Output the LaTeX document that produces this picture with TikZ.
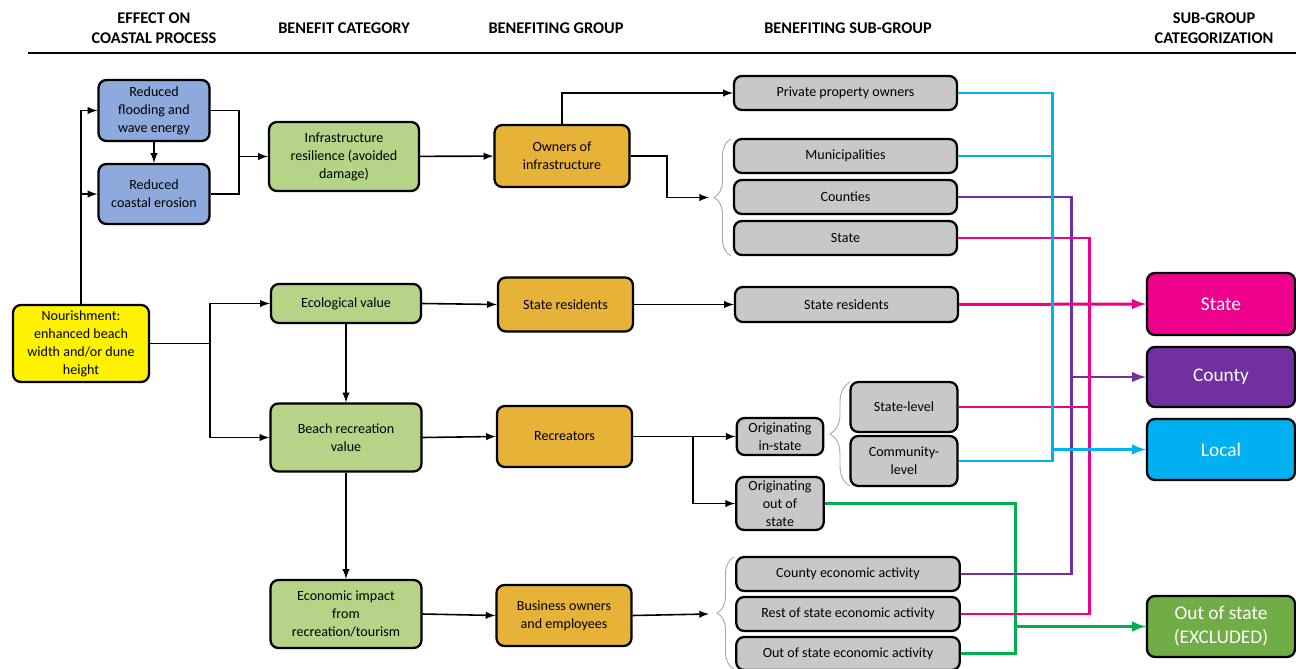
\documentclass[tikz,border=0pt]{standalone}
\usepackage{fontspec}
\setmainfont{Carlito}
\usetikzlibrary{decorations.pathreplacing}
\definecolor{effectblue}{RGB}{142,169,219}
\definecolor{benefitgreen}{RGB}{182,212,135}
\definecolor{grouporange}{RGB}{230,178,56}
\definecolor{subgray}{RGB}{200,200,200}
\definecolor{catpink}{RGB}{236,0,140}
\definecolor{catpurple}{RGB}{112,48,160}
\definecolor{catblue}{RGB}{0,176,240}
\definecolor{catgreen}{RGB}{112,173,71}
\definecolor{linegreen}{RGB}{0,176,80}
\begin{document}
\begin{tikzpicture}[x=0.02cm,y=-0.02cm,
	every node/.style={font=\fontsize{8}{10.2}\selectfont,align=center},
	base/.style={draw,rounded corners=4.5pt,line width=1.3pt,inner sep=1pt},
	sourcebox/.style={base,fill=yellow},
	effectbox/.style={base,fill=effectblue,minimum width=2.22cm},
	benefitbox/.style={base,fill=benefitgreen,minimum width=3.02cm},
	groupbox/.style={base,fill=grouporange,minimum width=2.7cm},
	subbox/.style={base,fill=subgray},
	catbox/.style={base,text=white,font=\fontsize{11}{13.6}\selectfont,minimum width=2.96cm},
	head/.style={font=\bfseries\fontsize{9.3}{11.3}\selectfont},
	arr/.style={-latex,line width=0.9pt},
	link/.style={line width=1.7pt},
	curly/.style={draw=gray!70,line width=0.5pt,decorate,decoration={brace,amplitude=#1}},
	curly/.default=0.34cm]
	\useasboundingbox (0,0) rectangle (1296,669);
	\node[head] (h1) at (154,28) {EFFECT ON\\COASTAL PROCESS};
	\node[head] (h2) at (344,28) {BENEFIT CATEGORY};
	\node[head] (h3) at (556,28) {BENEFITING GROUP};
	\node[head] (h4) at (848,28) {BENEFITING SUB-GROUP};
	\node[head] (h5) at (1214,28) {SUB-GROUP\\CATEGORIZATION};
	\draw[line width=1.5pt] (28,53) -- (1296,53);

	\node[sourcebox,minimum width=2.72cm,minimum height=1.54cm] (nour) at (81,343.5) {Nourishment:\\enhanced beach\\width and/or dune\\height};
	\node[effectbox,minimum height=1.22cm] (flood) at (154,110.5) {Reduced\\flooding and\\wave energy};
	\node[effectbox,minimum height=1.2cm] (eros) at (154,194) {Reduced\\coastal erosion};

	\node[benefitbox,minimum width=3cm,minimum height=1.38cm] (infra) at (344,156.5) {Infrastructure\\resilience (avoided\\damage)};
	\node[benefitbox,minimum width=3cm,minimum height=0.78cm] (eco) at (346,303.5) {Ecological value};
	\node[benefitbox,minimum height=1.36cm] (beach) at (346,437.5) {Beach recreation\\value};
	\node[benefitbox,minimum height=1.36cm] (econ) at (346,614) {Economic impact\\from\\recreation/tourism};

	\node[groupbox,minimum height=1.24cm] (owners) at (562,156) {Owners of\\infrastructure};
	\node[groupbox,minimum height=1.08cm] (resid) at (565.5,304.5) {State residents};
	\node[groupbox,minimum height=1.22cm] (recr) at (564.5,436.5) {Recreators};
	\node[groupbox,minimum height=1.22cm] (biz) at (564,615.5) {Business owners\\and employees};

	\node[subbox,minimum width=4.46cm,minimum height=0.68cm] (priv) at (845.5,93) {Private property owners};
	\node[subbox,minimum width=4.46cm,minimum height=0.68cm] (muni) at (845.5,156) {Municipalities};
	\node[subbox,minimum width=4.46cm,minimum height=0.68cm] (cnty) at (845.5,197) {Counties};
	\node[subbox,minimum width=4.46cm,minimum height=0.68cm] (stgov) at (845.5,238) {State};
	\node[subbox,minimum width=4.46cm,minimum height=0.7cm] (sres) at (846.5,304.5) {State residents};
	\node[subbox,minimum width=1.73cm,minimum height=0.74cm] (instate) at (780,436.5) {Originating\\in-state};
	\node[subbox,minimum width=1.75cm,minimum height=1.06cm] (outstate) at (780,503.5) {Originating\\out of\\state};
	\node[subbox,minimum width=2.14cm,minimum height=1cm] (slevel) at (904,407) {State-level};
	\node[subbox,minimum width=2.14cm,minimum height=1cm] (clevel) at (904,461) {Community-\\level};
	\node[subbox,minimum width=4.47cm,minimum height=0.68cm] (cecon) at (848,574) {County economic activity};
	\node[subbox,minimum width=4.47cm,minimum height=0.68cm] (recon) at (848,614) {Rest of state economic activity};
	\node[subbox,minimum width=4.47cm,minimum height=0.66cm] (oecon) at (848,653.5) {Out of state economic activity};

	\node[catbox,fill=catpink,minimum height=1.24cm] (catstate) at (1221,304) {State};
	\node[catbox,fill=catpurple,minimum height=1.2cm] (catcounty) at (1221,377) {County};
	\node[catbox,fill=catblue,minimum height=1.22cm] (catlocal) at (1221,449.5) {Local};
	\node[catbox,fill=catgreen,minimum height=1.22cm] (catout) at (1221,626.5) {Out of state\\(EXCLUDED)};

	\coordinate (j1) at (239,156.5);
	\coordinate (j2) at (210,343.5);
	\coordinate (j3) at (693,436.5);
	\coordinate (j4) at (667,156);
	\coordinate (br1) at (709,197.5);
	\coordinate (br3) at (709,614);

	\draw[arr] (nour.north) |- (flood.west);
	\draw[arr] (nour.north) |- (eros.west);
	\draw[arr] (flood) -- (eros);
	\draw[line width=0.9pt] (flood.east) -| (j1) |- (eros.east);
	\draw[arr] (j1) -- (infra.west);
	\draw[arr] (infra) -- (owners);
	\draw[arr] (owners.north) |- (priv.west);
	\draw[arr] (owners.east) -- (j4) |- (br1);
	\draw[curly] (731,256) -- (731,139);

	\draw[line width=0.9pt] (nour.east) -- (j2);
	\draw[arr] (j2) |- (eco.west);
	\draw[arr] (j2) |- (beach.west);
	\draw[arr] (eco) -- (beach);
	\draw[arr] (beach) -- (econ);
	\draw[arr] (eco.east) -- (resid.west);
	\draw[arr] (resid.east) -- (sres.west);
	\draw[arr] (beach.east) -- (recr.west);
	\draw[arr] (recr.east) -- (instate.west);
	\draw[arr] (j3) |- (outstate.west);
	\draw[curly=0.4cm] (850,486) -- (850,382);
	\draw[arr] (econ.east) -- (biz.west);
	\draw[arr] (biz.east) -- (br3);
	\draw[curly] (734,669) -- (734,557);

	\coordinate (bv) at (1052,449.5);
	\coordinate (pv) at (1071,377);
	\coordinate (rv) at (1089,304);
	\coordinate (gv) at (1015,626.5);
	\draw[link,linegreen] (outstate.east) -| (gv |- oecon.east) -- (oecon.east);
	\draw[link,linegreen,-latex] (gv) -- (catout.west);
	\draw[link,catpurple] (cnty.east) -| (pv |- cecon.east) -- (cecon.east);
	\draw[link,catpurple,-latex] (pv) -- (catcounty.west);
	\draw[link,catpink] (stgov.east) -| (rv |- recon.east) -- (recon.east);
	\draw[link,catpink] (slevel.east) -- (slevel.east -| rv);
	\draw[link,catpink,-latex] (sres.east) -- (catstate.west);
	\draw[link,catblue] (priv.east) -| (bv |- clevel.east) -- (clevel.east);
	\draw[link,catblue] (muni.east) -- (muni.east -| bv);
	\draw[link,catblue,-latex] (bv) -- (catlocal.west);
\end{tikzpicture}
\end{document}
